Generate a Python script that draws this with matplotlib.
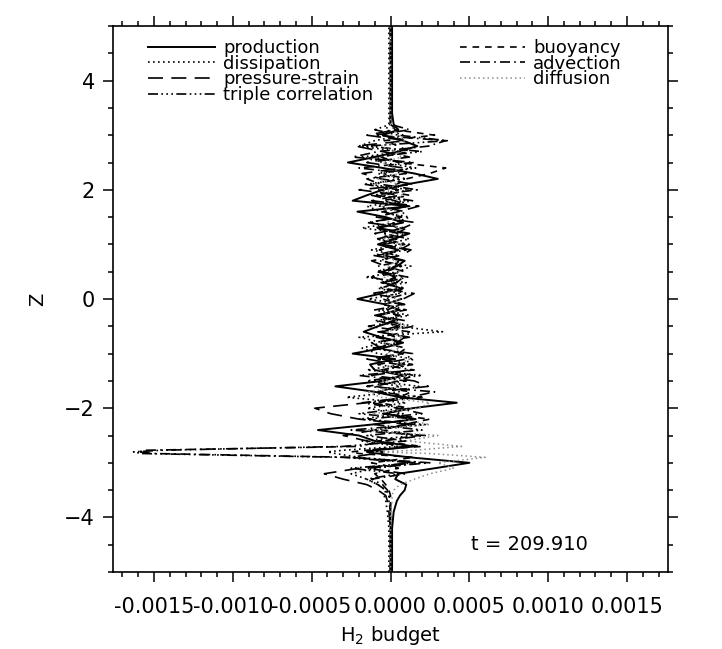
import matplotlib
matplotlib.use("Agg")
import matplotlib.pyplot as plt
import numpy as np
from matplotlib.ticker import MultipleLocator, FormatStrFormatter

plt.rcParams['font.family'] = ['DejaVu Sans']
plt.rcParams['mathtext.default'] = 'regular'

# vertical levels
z = [-5.0, -4.6, -4.2, -3.9, -3.7, -3.6, -3.5, -3.4, -3.3, -3.2,
     -3.1, -3.0, -2.9, -2.83, -2.8, -2.77, -2.7, -2.6, -2.5, -2.4,
     -2.3, -2.2, -2.1, -2.0, -1.9, -1.8, -1.7, -1.6, -1.5, -1.4,
     -1.3, -1.2, -1.1, -1.0, -0.9, -0.8, -0.7, -0.6, -0.5, -0.4,
     -0.3, -0.2, -0.1, 0.0, 0.1, 0.2, 0.3, 0.4, 0.5, 0.6,
     0.7, 0.8, 0.9, 1.0, 1.1, 1.2, 1.3, 1.4, 1.5, 1.6,
     1.7, 1.8, 1.9, 2.0, 2.1, 2.2, 2.3, 2.4, 2.5, 2.6,
     2.7, 2.8, 2.9, 3.0, 3.1, 3.2, 3.4, 3.8, 4.4, 5.0,
     5.2]

# budget terms, in units of 1e-4
production = [0.1, 0.1, 0.1, 0.2, 0.4, 0.6, 0.9, 1.0, 0.3, 0.5,
              2.8, 5.0, 1.2, -0.8, -1.5, -0.9, 1.5, -1.0, -2.0, -4.6,
              -1.2, 1.6, -0.4, 1.4, 4.2, 0.6, -1.0, -3.5, -0.5, 0.8,
              -1.0, -1.3, 0.3, -2.4, -0.5, 0.8, -0.6, -1.7, -0.8, 0.3,
              -0.8, 0.5, -0.3, -2.1, -0.6, 0.6, -0.4, 0.3, -0.5, 0.4,
              0.9, -0.4, 0.5, -0.8, 0.2, 1.2, -0.8, 0.8, -0.3, -2.1,
              1.2, -2.4, -1.5, -0.5, 1.0, 3.0, 1.5, -0.5, -2.7, -1.0,
              0.5, 1.7, 0.8, -0.5, 0.5, 0.2, 0.1, 0.1, 0.1, 0.1,
              0.1]
dissipation = [-0.1, -0.1, -0.1, -0.2, -0.3, -0.4, -0.3, -0.8, -1.5, -2.5,
               -1.0, 2.0, -2.0, -3.5, -4.0, -3.0, 0.5, -1.8, 1.5, -1.2,
               2.2, -2.0, 0.8, -1.5, 1.0, -2.8, 0.5, 1.8, -1.0, 2.0,
               -1.5, 0.6, 1.5, -0.8, -1.8, -0.5, -2.0, 3.3, 0.5, -1.0,
               1.2, -0.5, 0.8, -1.4, 0.6, -0.8, 1.0, -1.6, 0.5, 1.3,
               -0.7, 0.4, -1.2, 0.6, -0.9, 1.0, -1.8, 0.3, 1.2, -0.6,
               -1.5, 0.9, -0.4, 1.2, -1.3, 0.5, -0.8, 1.6, -0.5, -1.8,
               0.6, -2.0, -1.0, 0.8, -0.3, -0.1, -0.1, -0.1, -0.1, -0.1,
               -0.1]
pressure_strain = [0.0, 0.0, 0.0, -0.1, -0.2, -0.3, -0.8, -1.5, -3.0, -4.2,
                   -2.0, 1.5, -2.5, -1.0, -0.5, -1.5, 1.0, -1.5, -3.0, -1.0,
                   1.2, -2.0, -3.8, -4.8, -1.5, 1.0, -0.8, 2.4, 1.5, -1.2,
                   1.2, 0.5, -1.5, 0.8, -0.6, -1.2, 1.2, -0.8, 0.4, 1.0,
                   -1.0, 0.6, -0.4, 0.8, 1.5, -0.5, 0.3, -1.2, 0.9, -0.3,
                   -1.2, 0.7, 1.3, -0.5, 0.4, -1.0, 0.8, 1.6, -0.9, 0.5,
                   1.8, -1.2, 0.6, -2.0, 1.5, -0.6, -1.8, 0.8, -1.5, 1.2,
                   -0.5, -2.2, 1.0, -1.5, 0.4, 0.0, 0.0, 0.0, 0.0, 0.0,
                   0.0]
triple_corr = [0.0, 0.0, 0.0, 0.0, -0.1, -0.1, -0.3, -0.8, -1.5, 0.5,
               -2.5, 1.5, -3.0, -15.8, -16.3, -14.5, -3.0, 1.0, -1.5, 2.0,
               -1.0, 1.5, -2.0, 0.8, -1.2, 2.0, -0.8, 0.6, -1.5, 1.0,
               -0.6, 1.4, -0.5, 0.8, -1.1, 0.4, 0.9, -0.7, 1.5, -0.4,
               0.6, -1.0, 0.9, -0.3, 1.1, -0.6, 0.4, 0.8, -0.9, 0.3,
               0.5, -0.8, 1.0, -0.4, 1.2, -0.5, 0.7, -1.3, 0.6, 0.9,
               -0.7, 1.4, -0.9, 0.5, -1.6, 1.0, -0.5, 1.3, 0.8, -1.2,
               2.0, -1.5, 3.6, 0.5, -1.0, 0.0, 0.0, 0.0, 0.0, 0.0,
               0.0]
buoyancy = [0.0, 0.0, 0.0, 0.0, 0.0, 0.0, -0.1, -0.3, -0.6, -1.0,
            0.5, -1.2, 1.5, -2.0, -2.5, -1.5, 2.0, -0.8, 1.8, -0.6,
            0.8, 2.5, -0.5, 1.2, -0.7, 0.6, 1.3, -1.0, 0.5, 1.5,
            -0.4, 0.9, -0.8, 0.5, 1.0, -0.6, 0.3, -0.5, 0.7, -0.8,
            0.4, -0.2, 0.6, -0.5, 0.3, 0.8, -0.6, 0.5, -0.3, 0.7,
            -0.5, 0.3, -0.7, 0.9, -0.3, 0.5, -1.0, 0.4, 0.6, -0.4,
            0.8, -0.5, 1.2, -0.8, 0.4, 1.0, 2.5, 3.5, 0.5, -0.6,
            1.2, 0.5, -0.4, 2.8, 0.3, 0.0, 0.0, 0.0, 0.0, 0.0,
            0.0]
advection = [0.0, 0.0, 0.0, 0.0, 0.0, -0.1, -0.2, -0.5, -1.2, 1.0,
             -1.5, 2.5, -2.5, -15.0, -16.0, -15.5, -2.0, -0.5, 2.2, -2.5,
             1.6, -1.4, 2.0, 0.5, -1.8, 1.2, 2.8, -1.5, 1.0, -2.0,
             1.5, -0.8, 1.0, 1.4, -1.0, 0.6, -0.9, 1.2, -1.4, 0.5,
             -0.9, 1.0, -0.4, 0.7, -1.2, 0.9, -0.5, 1.1, -0.6, -0.8,
             0.8, -1.1, 0.6, 1.2, -0.8, 0.4, 1.0, -1.5, 0.7, -0.5,
             1.1, 0.3, -1.2, 1.7, -0.6, -1.5, 1.0, -2.0, 1.5, -2.4,
             -0.8, 2.4, 3.5, -1.0, 1.2, 0.0, 0.0, 0.0, 0.0, 0.0,
             0.0]
diffusion = [0.0, 0.0, 0.0, 0.0, 0.1, 0.1, 0.2, 0.6, 1.5, 2.5,
             4.0, 3.0, 6.0, 2.5, -1.0, 1.5, 4.5, 1.0, 3.0, -1.5,
             2.5, 0.8, -1.2, 1.8, 2.5, -0.6, -1.5, 0.8, -0.5, 1.0,
             -0.8, 0.5, 1.2, -0.3, 0.6, -0.4, 0.8, -0.2, 1.0, 0.3,
             -0.5, 0.4, -0.2, 0.6, -0.3, 0.5, 0.2, -0.4, 0.6, -0.2,
             0.4, -0.5, 0.3, 0.8, -0.4, 0.2, 0.6, -0.3, 0.5, 0.4,
             -0.6, 0.3, 0.8, -0.4, 0.5, -0.8, 0.6, 0.2, -0.5, 0.7,
             0.3, -0.6, 0.9, 0.4, 0.2, 0.0, 0.0, 0.0, 0.0, 0.0,
             0.0]

labels = ['production', 'dissipation', 'pressure-strain', 'triple correlation',
          'buoyancy', 'advection', 'diffusion']
unit = 1e-4
time_label = 't = 209.910'

fig = plt.figure(figsize=(7.22, 6.49), dpi=100)
ax = fig.add_axes([113/722, 1 - 572/649, 555/722, 546/649])

series = [production, dissipation, pressure_strain, triple_corr,
          buoyancy, advection, diffusion]
styles = [
    dict(color='black', lw=1.4, ls='-'),
    dict(color='black', lw=1.2, ls=(0, (1, 2))),
    dict(color='black', lw=1.2, ls=(0, (9, 5))),
    dict(color='black', lw=1.2, ls=(0, (6, 2, 1, 2, 1, 2, 1, 2))),
    dict(color='black', lw=1.2, ls=(0, (4, 3.5))),
    dict(color='black', lw=1.2, ls=(0, (6, 2.5, 1, 2.5))),
    dict(color='0.55', lw=1.1, ls=(0, (1, 2))),
]
handles = []
for vals, lab, st in zip(series, labels, styles):
    h, = ax.plot(np.array(vals) * unit, z, label=lab, **st)
    handles.append(h)

ax.set_xlim(-0.00176, 0.00176)
ax.set_ylim(-5, 5)
ax.xaxis.set_major_locator(MultipleLocator(0.0005))
ax.xaxis.set_minor_locator(MultipleLocator(0.0001))
ax.xaxis.set_major_formatter(FormatStrFormatter('%.4f'))
ax.yaxis.set_major_locator(MultipleLocator(2))
ax.yaxis.set_minor_locator(MultipleLocator(0.5))
ax.tick_params(which='both', direction='out', top=True, right=True,
               width=1.1, labelsize=15)
ax.tick_params(axis='x', which='both', pad=11)
ax.tick_params(axis='y', which='both', pad=6)
ax.tick_params(which='major', length=7)
ax.tick_params(which='minor', length=3.5)
for s in ax.spines.values():
    s.set_linewidth(1.2)

ax.set_xlabel(r'H$_2$ budget', fontsize=14, labelpad=5)
ax.set_ylabel('Z', fontsize=14, labelpad=12)

leg1 = ax.legend(handles[:4], labels[:4], loc='upper left',
                 bbox_to_anchor=(0.063, 0.976), frameon=False, fontsize=13,
                 handlelength=3.7, handletextpad=0.45, labelspacing=-0.13,
                 borderpad=0, borderaxespad=0)
ax.add_artist(leg1)
ax.legend(handles[4:], labels[4:], loc='upper left',
          bbox_to_anchor=(0.625, 0.976), frameon=False, fontsize=13,
          handlelength=3.6, handletextpad=0.45, labelspacing=-0.13,
          borderpad=0, borderaxespad=0)

ax.text(0.00051, -4.5, time_label, fontsize=14, va='center', ha='left')

fig.savefig('out.png', dpi=100)
